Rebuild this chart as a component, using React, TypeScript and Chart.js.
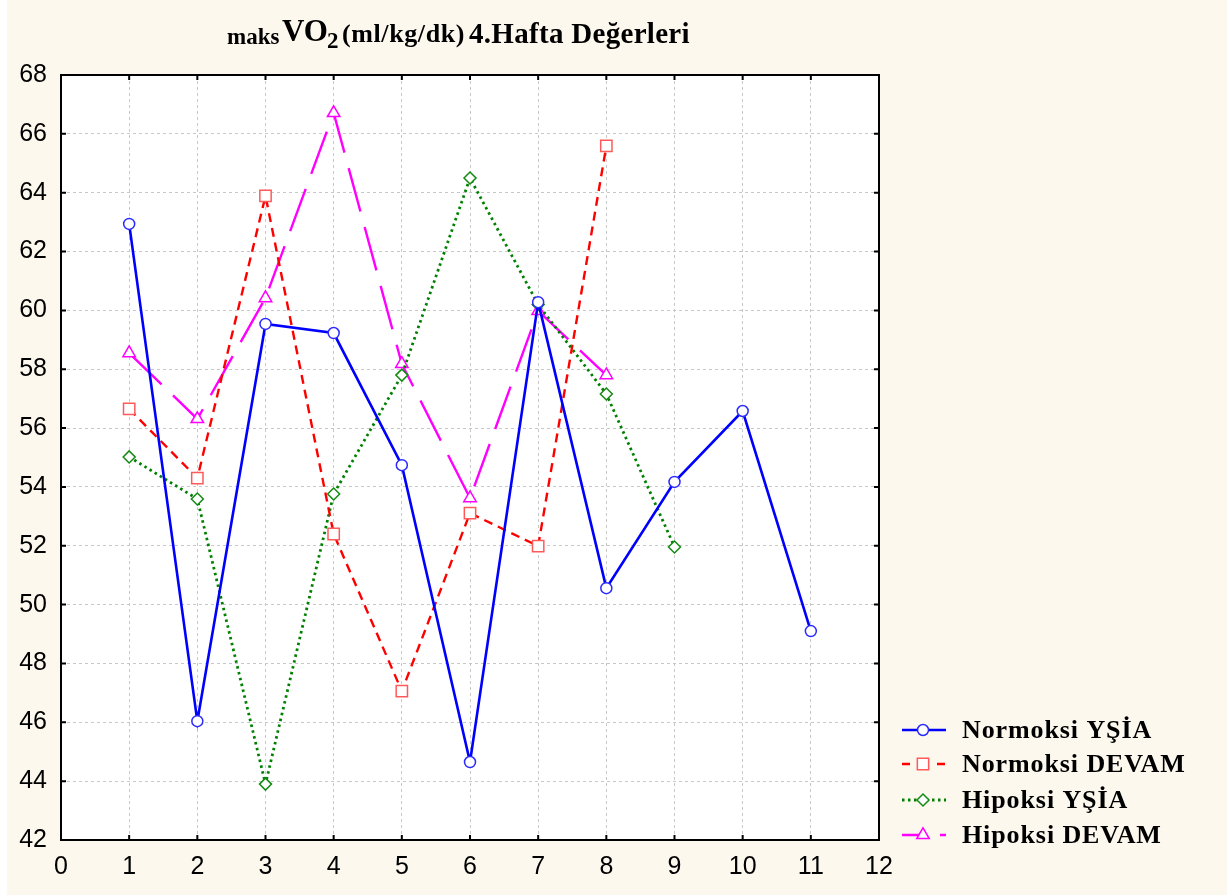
import React, { useEffect, useRef } from "react";
import { Chart, registerables } from "chart.js";

Chart.register(...registerables);

// ---- data ----
const xPositions = [1, 2, 3, 4, 5, 6, 7, 8, 9, 10, 11];
const normoksiYsia = [62.94, 46.04, 59.54, 59.23, 54.74, 44.65, 60.28, 50.56, 54.17, 56.58, 49.1];
const normoksiDevam = [56.65, 54.3, 63.89, 52.4, 47.06, 53.11, 51.99, 65.59];
const hipoksiYsia = [55.02, 53.59, 43.9, 53.76, 57.8, 64.5, 60.2, 57.16, 51.96];
const hipoksiDevam = [58.55, 56.31, 60.42, 66.71, 58.18, 53.62, 59.98, 57.8];
const seriesNames = ["Normoksi YŞİA", "Normoksi DEVAM", "Hipoksi YŞİA", "Hipoksi DEVAM"];
const xMin = 0, xMax = 12, xStep = 1;
const yMin = 42, yMax = 68, yStep = 2;

const W = 1227, H = 895;
const SERIF = '"Liberation Serif", "Times New Roman", serif';
const SANS = '"Liberation Sans", Arial, sans-serif';

const toPoints = (vals: number[]) => vals.map((v, i) => ({ x: xPositions[i], y: v }));

const styles = [
  { line: "#0000ff", marker: "#2b2bff", dash: [] as number[], width: 2.6, shape: "circle", r: 5.5, legendDash: [] as number[] },
  { line: "#ff0000", marker: "#ff5a5a", dash: [9, 6], width: 2.4, shape: "rect", r: 8, legendDash: [8, 27] },
  { line: "#008000", marker: "#138a13", dash: [2.5, 3.5], width: 2.8, shape: "rectRot", r: 6, legendDash: [2.5, 3.5] },
  { line: "#ff00ff", marker: "#ff00ff", dash: [45, 16], width: 2.4, shape: "triangle", r: 7.2, legendDash: [20, 18, 6, 100] },
];

function drawMarker(ctx: CanvasRenderingContext2D, shape: string, x: number, y: number, r: number) {
  ctx.beginPath();
  if (shape === "circle") {
    ctx.arc(x, y, r, 0, Math.PI * 2);
  } else if (shape === "rect") {
    const s = r * Math.SQRT1_2;
    ctx.rect(x - s, y - s, 2 * s, 2 * s);
  } else if (shape === "rectRot") {
    ctx.moveTo(x - r, y);
    ctx.lineTo(x, y - r);
    ctx.lineTo(x + r, y);
    ctx.lineTo(x, y + r);
    ctx.closePath();
  } else {
    const a = (2 * Math.PI) / 3;
    ctx.moveTo(x, y - r);
    ctx.lineTo(x + Math.sin(a) * r, y - Math.cos(a) * r);
    ctx.lineTo(x + Math.sin(2 * a) * r, y - Math.cos(2 * a) * r);
    ctx.closePath();
  }
  ctx.fill();
  ctx.stroke();
}

const decorPlugin = {
  id: "decor",
  beforeDraw(chart: any) {
    const { ctx, chartArea: a } = chart;
    ctx.save();
    ctx.fillStyle = "#ffffff";
    ctx.fillRect(0, 0, W, H);
    ctx.fillStyle = "#fcf8ee";
    ctx.fillRect(7, 0, W - 7, H);
    ctx.fillStyle = "#ffffff";
    ctx.fillRect(a.left, a.top, a.right - a.left, a.bottom - a.top);
    ctx.restore();
  },
  afterDraw(chart: any) {
    const { ctx, chartArea: a, scales } = chart;
    ctx.save();
    // frame
    ctx.strokeStyle = "#000";
    ctx.lineWidth = 2;
    ctx.setLineDash([]);
    ctx.strokeRect(a.left, a.top, a.right - a.left, a.bottom - a.top);
    // inner ticks
    ctx.beginPath();
    for (let v = xMin + xStep; v < xMax; v += xStep) {
      const px = scales.x.getPixelForValue(v);
      ctx.moveTo(px, a.bottom); ctx.lineTo(px, a.bottom - 5);
      ctx.moveTo(px, a.top); ctx.lineTo(px, a.top + 5);
    }
    for (let v = yMin + yStep; v < yMax; v += yStep) {
      const py = scales.y.getPixelForValue(v);
      ctx.moveTo(a.left, py); ctx.lineTo(a.left + 5, py);
      ctx.moveTo(a.right, py); ctx.lineTo(a.right - 5, py);
    }
    ctx.stroke();

    // title
    ctx.fillStyle = "#000";
    ctx.textBaseline = "alphabetic";
    ctx.textAlign = "left";
    const parts: [string, number, number, number, number][] = [
      ["maks", 227, 44, 23, 0],
      ["VO", 282, 41, 31, 0],
      ["2", 327, 48, 23, 0],
      ["(ml/kg/dk)", 342, 42, 26, 0.6],
      ["4.Hafta Değerleri", 469, 42.7, 29, 0.3],
    ];
    for (const [t, x, y, s, ls] of parts) {
      ctx.font = `bold ${s}px ${SERIF}`;
      (ctx as any).letterSpacing = `${ls}px`;
      ctx.fillText(t, x, y);
    }
    (ctx as any).letterSpacing = "0px";

    // legend
    const rows = [730, 764, 800, 835];
    styles.forEach((st, i) => {
      const y = rows[i];
      ctx.strokeStyle = st.line;
      ctx.lineWidth = st.width;
      ctx.setLineDash(st.legendDash);
      ctx.beginPath();
      ctx.moveTo(902, y);
      ctx.lineTo(946, y);
      ctx.stroke();
      ctx.setLineDash([]);
      ctx.lineWidth = 1.5;
      ctx.strokeStyle = st.marker;
      ctx.fillStyle = "#fff";
      drawMarker(ctx, st.shape, 923, y, st.r);
      ctx.fillStyle = "#000";
      ctx.font = `bold 26px ${SERIF}`;
      (ctx as any).letterSpacing = "0.9px";
      ctx.textBaseline = "middle";
      ctx.fillText(seriesNames[i], 962, y + 1);
      (ctx as any).letterSpacing = "0px";
    });
    ctx.restore();
  },
};

export default function App() {
  const ref = useRef<HTMLCanvasElement | null>(null);
  useEffect(() => {
    if (!ref.current) return;
    const all = [normoksiYsia, normoksiDevam, hipoksiYsia, hipoksiDevam];
    const chart = new Chart(ref.current, {
      type: "line",
      data: {
        datasets: all.map((vals, i) => ({
          label: seriesNames[i],
          data: toPoints(vals),
          borderColor: styles[i].line,
          borderWidth: styles[i].width,
          borderDash: styles[i].dash,
          pointStyle: styles[i].shape as any,
          pointRadius: styles[i].r,
          pointBorderColor: styles[i].marker,
          pointBackgroundColor: "#ffffff",
          pointBorderWidth: 1.5,
          tension: 0,
          fill: false,
        })),
      },
      options: {
        responsive: false,
        animation: false,
        devicePixelRatio: 1,
        layout: { padding: { left: 0, right: 348, top: 75, bottom: 0 } },
        plugins: { legend: { display: false }, title: { display: false }, tooltip: { enabled: false } },
        scales: {
          x: {
            type: "linear",
            min: xMin,
            max: xMax,
            ticks: { stepSize: xStep, color: "#000", font: { family: SANS, size: 25 }, padding: 12, maxRotation: 0, autoSkip: false },
            grid: { color: "#c8c8c8", lineWidth: 1, drawTicks: false },
            border: { display: false, dash: [3, 3] },
            afterFit: (s: any) => { s.height = 55; },
          },
          y: {
            type: "linear",
            min: yMin,
            max: yMax,
            ticks: { stepSize: yStep, color: "#000", font: { family: SANS, size: 25 }, padding: 14, autoSkip: false },
            grid: { color: "#c8c8c8", lineWidth: 1, drawTicks: false },
            border: { display: false, dash: [3, 3] },
            afterFit: (s: any) => { s.width = 61; },
          },
        },
      },
      plugins: [decorPlugin],
    });
    return () => chart.destroy();
  }, []);
  return (
    <div style={{ position: "fixed", left: 0, top: 0, width: W, height: H }}>
      <canvas ref={ref} width={W} height={H} style={{ display: "block", width: W, height: H }} />
    </div>
  );
}
